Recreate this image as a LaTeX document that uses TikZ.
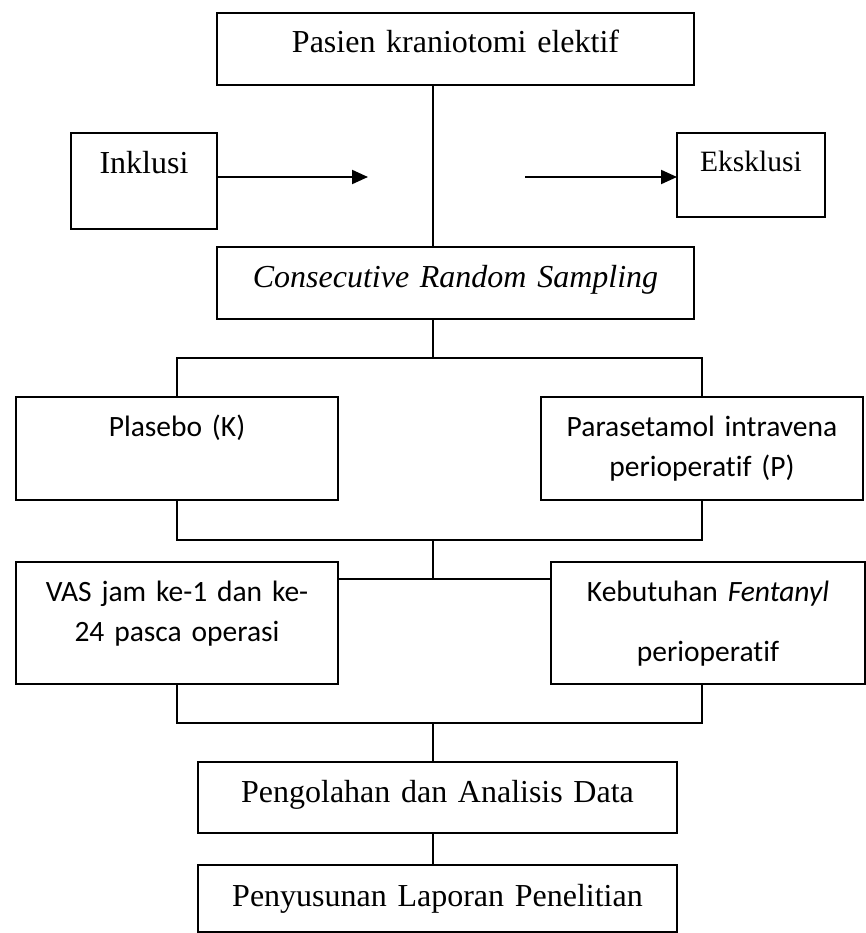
\documentclass[tikz,border=0pt]{standalone}
\usepackage{fontspec}
\setmainfont{Liberation Serif}
\newfontfamily\calibri[Ligatures=CommonOff]{Carlito}
\usetikzlibrary{arrows.meta}

\tikzset{
  kotak/.style n args={3}{draw, line width=1.3pt, anchor=north west, inner sep=0pt, outer sep=0pt,
    align=center, text width=#1, text height=#2, text depth=#3},
  times/.style={font=\fontsize{32}{38}\selectfont},
  calibri/.style={font=\calibri\fontsize{29.5}{40}\selectfont},
  garis/.style={line width=1.3pt},
  panah/.style={line width=2pt, -{Triangle[length=16pt,width=14pt]}}
}

\begin{document}
\begin{tikzpicture}[x=1pt, y=-1pt]
    \useasboundingbox (0,0) rectangle (866,933);

    \node[kotak={477pt}{40pt}{32pt}, times] (pasien) at (217,13) {Pasien kraniotomi elektif};
    \node[kotak={146pt}{41pt}{55pt}, times] (inklusi) at (71,133) {Inklusi};
    \node[kotak={148pt}{39pt}{45pt}, times, font=\fontsize{29.5}{36}\selectfont] (eksklusi) at (677,133) {Eksklusi};
    \node[kotak={477pt}{40pt}{32pt}, times] (sampling) at (217,247) {\textit{Consecutive Random Sampling}};
    \node[kotak={322pt}{39pt}{64pt}, calibri] (plasebo) at (16,397) {Plasebo (K)};
    \node[kotak={322pt}{39pt}{64pt}, calibri] (parasetamol) at (541,397) {Parasetamol intravena\\perioperatif (P)};
    \node[kotak={322pt}{39pt}{83pt}, calibri] (vas) at (16,562) {VAS jam ke-1 dan ke-\\24 pasca operasi};
    \node[kotak={314pt}{39pt}{83pt}, calibri] (fentanyl) at (551,562) {Kebutuhan \textit{Fentanyl}\\[20pt]perioperatif};
    \node[kotak={479pt}{40pt}{31pt}, times] (analisis) at (198,762) {Pengolahan dan Analisis Data};
    \node[kotak={479pt}{41pt}{26pt}, times] (laporan) at (198,865) {Penyusunan Laporan Penelitian};

    \coordinate (tengah) at (433,0);
    \coordinate (cabang1) at (433,358);
    \coordinate (cabang2) at (433,540);
    \coordinate (cabang3) at (433,579);
    \coordinate (cabang4) at (433,723);
    \coordinate (ujung) at (368,177);
    \coordinate (pangkal) at (525,177);

    \draw[garis] (pasien.south -| tengah) -- (sampling.north -| tengah);
    \draw[panah] (inklusi.east |- ujung) -- (ujung);
    \draw[panah] (pangkal) -- (eksklusi.west |- pangkal);
    \draw[garis] (sampling.south -| tengah) -- (cabang1);
    \draw[garis] (plasebo.north) |- (cabang1) -| (parasetamol.north);
    \draw[garis] (plasebo.south) |- (cabang2) -| (parasetamol.south);
    \draw[garis] (cabang2) -- (cabang3);
    \draw[garis] (vas.east |- cabang3) -- (fentanyl.west |- cabang3);
    \draw[garis] (vas.south) |- (cabang4) -| (parasetamol.south |- fentanyl.south);
    \draw[garis] (cabang4) -- (analisis.north -| tengah);
    \draw[garis] (analisis.south -| tengah) -- (laporan.north -| tengah);
\end{tikzpicture}
\end{document}
